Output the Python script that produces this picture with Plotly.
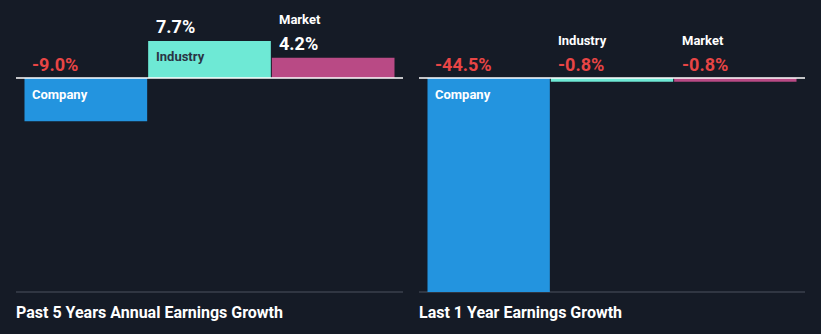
import plotly.graph_objects as go

categories = ["Company", "Industry", "Market"]
past5_values = [-9.0, 7.7, 4.2]
last1_values = [-44.5, -0.8, -0.8]
panel_titles = ["Past 5 Years Annual Earnings Growth", "Last 1 Year Earnings Growth"]

W, H = 821, 334
BG = "#151b26"
bar_colors = ["#2394df", "#6ee9d5", "#b94a85"]
label_colors = ["#ffffff", "#2a3444", "#ffffff"]
RED = "#e84545"
FONT = "Roboto"

zero_px = 78
bottom_px = 292
scale = (bottom_px - zero_px) / 44.5
y_top = zero_px / scale
y_range = [-(bottom_px - zero_px) / scale, y_top]
ydom = [(H - bottom_px) / H, 1.0]

panels = [
    dict(values=past5_values, x0=24, x1=395, title=panel_titles[0], tx=14),
    dict(values=last1_values, x0=427, x1=797, title=panel_titles[1], tx=417),
]

fig = go.Figure()
annotations = []
shapes = []
for i, p in enumerate(panels):
    xa = "x" if i == 0 else "x2"
    ya = "y" if i == 0 else "y2"
    fig.add_trace(go.Bar(
        x=list(range(len(categories))), y=p["values"],
        marker=dict(color=bar_colors, line=dict(width=0)),
        xaxis=xa, yaxis=ya, hoverinfo="skip", showlegend=False,
    ))
    axkey = "xaxis" if i == 0 else "xaxis2"
    aykey = "yaxis" if i == 0 else "yaxis2"
    fig.update_layout(**{
        axkey: dict(domain=[p["x0"] / W, p["x1"] / W], range=[-0.5, 2.5],
                    visible=False, fixedrange=True),
        aykey: dict(domain=ydom, range=y_range, visible=False, fixedrange=True),
    })
    if i == 1:
        fig.layout.xaxis2.anchor = "y2"
        fig.layout.yaxis2.anchor = "x2"
    dw = p["x1"] - p["x0"]
    ext = 8 / dw
    # zero line
    shapes.append(dict(type="line", xref=f"{xa} domain", yref=ya,
                       x0=-ext, x1=1 + ext, y0=0, y1=0,
                       line=dict(color="#ffffff", width=1.5)))
    # bottom line
    shapes.append(dict(type="line", xref=f"{xa} domain", yref=f"{ya} domain",
                       x0=-ext, x1=1 + ext, y0=0, y1=0,
                       line=dict(color="#3a404c", width=1.5), layer="below"))
    for j, (cat, v) in enumerate(zip(categories, p["values"])):
        top = max(v, 0)
        txt = f"{v:.1f}%"
        annotations.append(dict(
            xref=xa, yref=ya, x=j - 0.5, y=top, xanchor="left", yanchor="middle",
            xshift=6, yshift=14, showarrow=False, text=txt,
            font=dict(family=FONT, size=18, color=RED if v < 0 else "#ffffff", weight="bold"),
        ))
        inside = abs(v) * scale > 30
        if inside:
            annotations.append(dict(
                xref=xa, yref=ya, x=j - 0.5, y=top, xanchor="left", yanchor="middle",
                xshift=6, yshift=-16, showarrow=False, text=cat,
                font=dict(family=FONT, size=13, color=label_colors[j], weight="bold"),
            ))
        else:
            annotations.append(dict(
                xref=xa, yref=ya, x=j - 0.5, y=top, xanchor="left", yanchor="middle",
                xshift=6, yshift=38, showarrow=False, text=cat,
                font=dict(family=FONT, size=13, color="#ffffff", weight="bold"),
            ))
    annotations.append(dict(
        xref="paper", yref="paper", x=p["tx"] / W, y=(H - 312) / H,
        xanchor="left", yanchor="middle", showarrow=False, text=p["title"],
        font=dict(family=FONT, size=16, color="#ffffff", weight="bold"),
    ))

fig.update_layout(
    width=W, height=H, margin=dict(l=0, r=0, t=0, b=0),
    paper_bgcolor=BG, plot_bgcolor=BG,
    bargap=0.008, annotations=annotations, shapes=shapes,
)
fig.write_html("out.html", config={"displayModeBar": False})
